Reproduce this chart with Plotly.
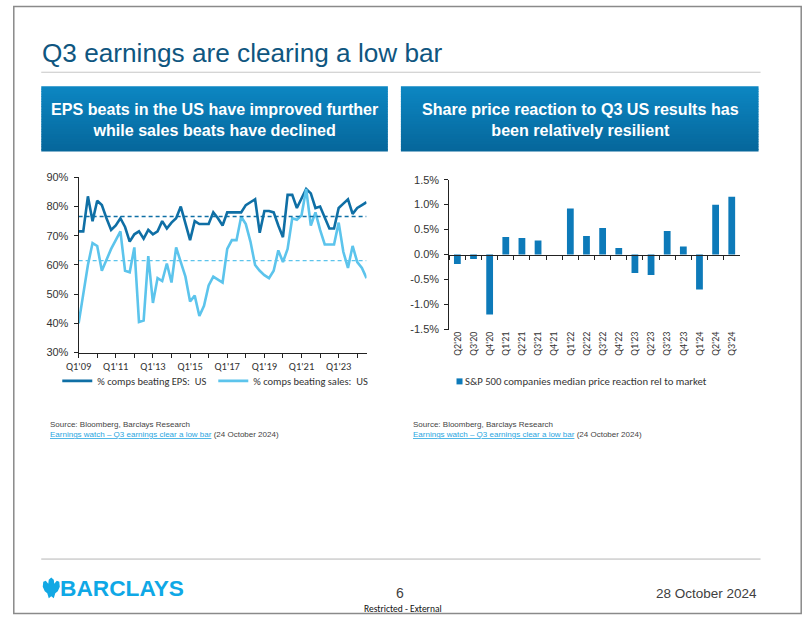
import plotly.graph_objects as go

# ---------------- data ----------------
YEARS = list(range(2009, 2025))
QUARTERS = [f"Q{q}'{str(y)[2:]}" for y in YEARS for q in (1, 2, 3, 4)][:63]  # Q1'09 .. Q3'24

EPS_BEAT = [71.5, 71.5, 83.5, 75, 82, 80.5, 76, 72, 73.5, 76,
            73, 68, 70.5, 71.5, 69, 72, 70.5, 71.5, 75, 72.5,
            74.5, 76, 80, 74, 68.5, 75, 74, 74, 74, 78,
            76, 73.5, 78, 78, 78, 78, 80.5, 81.5, 82.5, 71,
            78.5, 78.5, 78, 73.5, 69.5, 84, 84, 79.5, 83, 86,
            84.5, 79.5, 80, 76.5, 72.5, 72.5, 79.5, 81, 82.5, 77.5,
            79.5, 80.5, 81.5]
SALES_BEAT = [40, 50, 60, 67.5, 66.5, 58, 62, 65.5, 68.5, 71.5,
              58, 57.5, 66, 40.5, 41, 63, 47, 55.5, 54.5, 60.5,
              54, 66, 61, 56, 47.5, 49.5, 42.5, 46, 53, 56,
              55, 54, 65.5, 68.5, 68.5, 76.5, 74, 68, 60, 58,
              56.5, 55.5, 58, 65, 61, 65.5, 76, 75.5, 77, 86,
              73.5, 78, 72, 67, 67, 67, 74.5, 64.5, 59, 66.5,
              61, 59, 55.5]
EPS_AVG = 76.6
SALES_AVG = 61.5
LINE_TICK_LABELS = ["Q1'09", "Q1'11", "Q1'13", "Q1'15", "Q1'17", "Q1'19", "Q1'21", "Q1'23"]
LINE_Y_TICKS = [30, 40, 50, 60, 70, 80, 90]

BAR_QUARTERS = ["Q2'20", "Q3'20", "Q4'20", "Q1'21", "Q2'21", "Q3'21", "Q4'21", "Q1'22", "Q2'22",
                "Q3'22", "Q4'22", "Q1'23", "Q2'23", "Q3'23", "Q4'23", "Q1'24", "Q2'24", "Q3'24"]
PRICE_REACTION = [-0.19, -0.09, -1.2, 0.35, 0.33, 0.28, 0.0, 0.92, 0.37,
                  0.53, 0.13, -0.37, -0.41, 0.47, 0.16, -0.70, 1.0, 1.16]
BAR_Y_TICKS = [-1.5, -1.0, -0.5, 0.0, 0.5, 1.0, 1.5]
BAR_Y_LABELS = ["-1.5%", "-1.0%", "-0.5%", "0.0%", "0.5%", "1.0%", "1.5%"]
BAR_LEGEND = "S&P 500 companies median price reaction rel to market"

# ---------------- helpers ----------------
W, H = 802, 620
# the photographed page appears scaled/offset; positions below are given in picture pixels
SX, SY, OX, OY = 0.982, 0.977, 13.8, 7.0
def px(x):
    return ((x - OX) / SX) / W
def py(y):
    return 1 - ((y - OY) / SY) / H

ARIAL = "Liberation Sans, Arial, sans-serif"
CALIBRI = "Carlito, Calibri, Lato, sans-serif"
DARK = "#0f6fa5"
LIGHT = "#5cc4ec"
BAR = "#0d7ab9"
AXIS = "#222222"
TXT = "#333333"

fig = go.Figure()

# ---- line chart ----
fig.add_trace(go.Scatter(x=QUARTERS, y=EPS_BEAT, mode="lines", name="% comps beating EPS:  US",
                         line=dict(color=DARK, width=2.6), xaxis="x", yaxis="y", legend="legend"))
fig.add_trace(go.Scatter(x=QUARTERS, y=SALES_BEAT, mode="lines", name="% comps beating sales:  US",
                         line=dict(color=LIGHT, width=2.6), xaxis="x", yaxis="y", legend="legend"))
fig.add_trace(go.Scatter(x=[QUARTERS[0], QUARTERS[-1]], y=[EPS_AVG, EPS_AVG], mode="lines",
                         line=dict(color=DARK, width=1.3, dash="4px,3px"), showlegend=False,
                         xaxis="x", yaxis="y", hoverinfo="skip"))
fig.add_trace(go.Scatter(x=[QUARTERS[0], QUARTERS[-1]], y=[SALES_AVG, SALES_AVG], mode="lines",
                         line=dict(color=LIGHT, width=1.3, dash="4px,3px"), showlegend=False,
                         xaxis="x", yaxis="y", hoverinfo="skip"))

# ---- bar chart ----
fig.add_trace(go.Bar(x=BAR_QUARTERS, y=PRICE_REACTION, marker=dict(color=BAR, line=dict(width=0)),
                     name=BAR_LEGEND, showlegend=False, xaxis="x2", yaxis="y2"))

tickvals_line = QUARTERS[::4]
ticktext_line = []
k = 0
for i, q in enumerate(tickvals_line):
    if i % 2 == 0 and k < len(LINE_TICK_LABELS):
        ticktext_line.append(LINE_TICK_LABELS[k]); k += 1
    else:
        ticktext_line.append("")

line_dom_x = [px(79.3), px(366.7)]
line_dom_y = [py(352.3), py(177.7)]
bar_dom_x = [px(449.3), px(739.3)]
bar_dom_y = [py(329.3), py(180.0)]

fig.update_layout(
    width=W, height=H, margin=dict(l=0, r=0, t=0, b=0),
    paper_bgcolor="white", plot_bgcolor="rgba(0,0,0,0)",
    showlegend=True, bargap=0.58,
    xaxis=dict(domain=line_dom_x, anchor="y", type="category", categoryorder="array",
               categoryarray=QUARTERS, range=[0, len(QUARTERS) - 1],
               showline=True, linecolor=AXIS, linewidth=1, ticks="outside", ticklen=4,
               tickcolor=AXIS, tickvals=tickvals_line, ticktext=ticktext_line,
               tickangle=0, showgrid=False, zeroline=False,
               tickfont=dict(family=CALIBRI, size=10.5, color=TXT)),
    yaxis=dict(domain=line_dom_y, anchor="x", range=[30, 90], tickvals=LINE_Y_TICKS,
               ticktext=[f"{v}%" for v in LINE_Y_TICKS],
               showline=True, linecolor=AXIS, linewidth=1, ticks="outside", ticklen=4,
               tickcolor=AXIS, showgrid=False, zeroline=False, ticklabelstandoff=3,
               tickfont=dict(family=ARIAL, size=11, color=TXT)),
    xaxis2=dict(domain=bar_dom_x, anchor="free", position=(bar_dom_y[0] + bar_dom_y[1]) / 2,
                type="category", categoryorder="array", categoryarray=BAR_QUARTERS,
                range=[-0.5, len(BAR_QUARTERS) - 0.5],
                showline=True, linecolor=AXIS, linewidth=1, ticks="outside", ticklen=4,
                tickcolor=AXIS, tickson="boundaries", tickangle=-90, ticklabelstandoff=72,
                showgrid=False, zeroline=False,
                tickfont=dict(family=CALIBRI, size=10, color=TXT)),
    yaxis2=dict(domain=bar_dom_y, anchor="x2", range=[-1.5, 1.5], tickvals=BAR_Y_TICKS,
                ticktext=BAR_Y_LABELS, showline=True, linecolor=AXIS, linewidth=1,
                ticks="outside", ticklen=4, tickcolor=AXIS, showgrid=False, zeroline=False,
                ticklabelstandoff=3, tickfont=dict(family=ARIAL, size=11, color=TXT)),
    legend=dict(orientation="h", x=px(58), y=py(366), xanchor="left", yanchor="top",
                bgcolor="rgba(0,0,0,0)", itemwidth=30, entrywidth=111,
                font=dict(family=CALIBRI, size=10.5, color=TXT), traceorder="normal"),
)

shapes = []
# slide border
shapes.append(dict(type="rect", xref="paper", yref="paper", x0=0.001, y0=0.001, x1=0.999, y1=0.999,
                   line=dict(color="#8a8a8a", width=1.5), fillcolor="rgba(0,0,0,0)"))
# title rule and footer rule
shapes.append(dict(type="line", xref="paper", yref="paper", x0=px(42), x1=px(760), y0=py(73), y1=py(73),
                   line=dict(color="#c6c6c6", width=1)))
shapes.append(dict(type="line", xref="paper", yref="paper", x0=px(42), x1=px(760), y0=py(558), y1=py(558),
                   line=dict(color="#b5b5b5", width=1)))
# gradient header boxes
top_c = (12, 134, 194)
bot_c = (6, 103, 155)
N = 26
for (bx0, bx1) in [(42, 388), (401, 758)]:
    y0, y1 = 87.0, 152.0
    for i in range(N):
        t = i / (N - 1)
        c = tuple(int(round(top_c[j] + (bot_c[j] - top_c[j]) * t)) for j in range(3))
        ya = y0 + (y1 - y0) * i / N
        yb = y0 + (y1 - y0) * (i + 1) / N + 0.6
        shapes.append(dict(type="rect", xref="paper", yref="paper", x0=px(bx0), x1=px(bx1),
                           y0=py(min(yb, y1)), y1=py(ya), line=dict(width=0),
                           fillcolor="rgb(%d,%d,%d)" % c, layer="below"))
# bar chart legend swatch
shapes.append(dict(type="rect", xref="paper", yref="paper", x0=px(456.5), x1=px(462.5),
                   y0=py(384), y1=py(378), fillcolor=BAR, line=dict(width=0)))
# Barclays eagle emblem (rough)
eagle = [(52, 576.5), (54.5, 578.5), (55, 582.5), (57.5, 579.5), (60, 580.5), (60.5, 585.5),
         (58.5, 590), (56, 592), (54.5, 597), (52, 595), (49.5, 597), (48, 592), (45.5, 590),
         (43.5, 585.5), (44, 580.5), (46.5, 579.5), (49, 582.5), (49.5, 578.5)]
path = "M " + " L ".join(f"{px(x):.5f},{py(y):.5f}" for x, y in eagle) + " Z"
shapes.append(dict(type="path", xref="paper", yref="paper", path=path,
                   fillcolor="#12a8e4", line=dict(width=0)))

annotations = []
def note(text, x, y, size, color, family=ARIAL, xanchor="left", align="left", yanchor="middle"):
    annotations.append(dict(text=text, x=px(x), y=py(y), xref="paper", yref="paper",
                            xanchor=xanchor, yanchor=yanchor, align=align, showarrow=False,
                            font=dict(family=family, size=size, color=color)))

note("Q3 earnings are clearing a low bar", 41, 54, 26.2, "#0f5680")
note("<b>EPS beats in the US have improved further<br>while sales beats have declined</b>",
     215, 120, 16.1, "white", xanchor="center", align="center")
note("<b>Share price reaction to Q3 US results has<br>been relatively resilient</b>",
     580, 120, 16.1, "white", xanchor="center", align="center")
note(BAR_LEGEND, 463, 381, 10.7, TXT, family=CALIBRI)
src = "Source: Bloomberg, Barclays Research"
link = ("<span style='color:#2aa6df'><u>Earnings watch \u2013 Q3 earnings clear a low bar</u></span>"
        " (24 October 2024)")
for sx in (50, 412):
    note(src, sx - 1, 423.5, 8, "#444444")
    note(link, sx - 1, 433.5, 8, "#444444")
note("<b>BARCLAYS</b>", 59, 587, 22.7, "#0fa8e6")
note("6", 400, 592, 14, "#404040", xanchor="center", align="center")
note("Restricted - External", 403, 608, 9.5, "#111111", family=CALIBRI, xanchor="center", align="center")
note("28 October 2024", 758, 592, 13.5, "#404040", xanchor="right", align="right")

fig.update_layout(shapes=shapes, annotations=annotations)
fig.write_html("out.html", config={"displayModeBar": False},
               post_script="document.documentElement.style.margin='0';"
                           "document.body.style.margin='0';document.body.style.padding='0';"
                           "document.body.style.overflow='hidden';")
